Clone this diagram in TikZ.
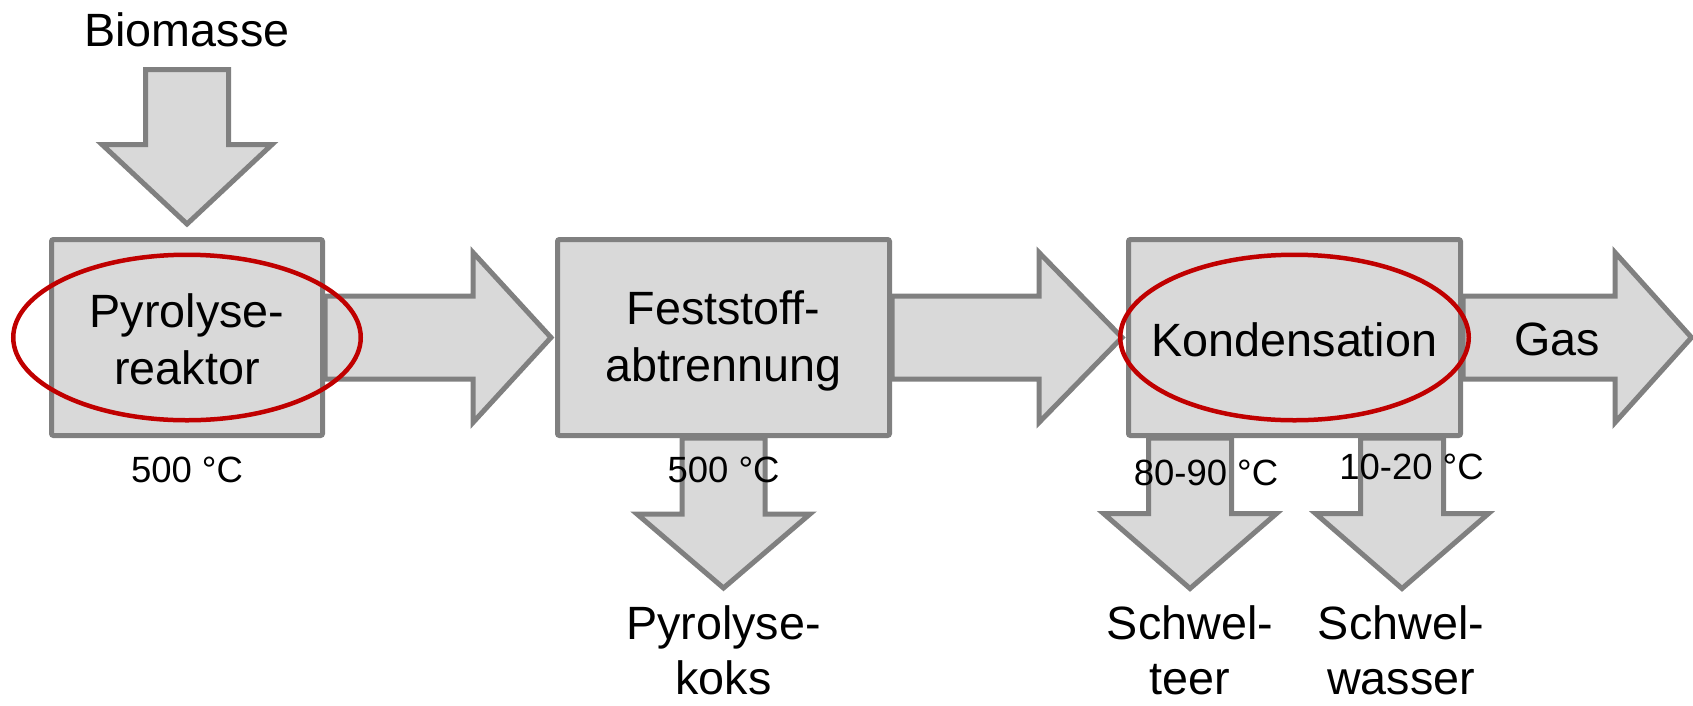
\documentclass[tikz,border=0pt]{standalone}
\usepackage{fontspec}
\setmainfont{Liberation Sans}
\usetikzlibrary{calc}
\pgfdeclarelayer{bg}
\pgfsetlayers{bg,main}
\definecolor{boxfill}{HTML}{D9D9D9}
\definecolor{boxline}{HTML}{808080}
\definecolor{markred}{HTML}{C00000}
\newcommand\bigf{\fontsize{46.7}{57}\selectfont}
\newcommand\lowf{\fontsize{46.7}{55}\selectfont}
\newcommand\smallf{\fontsize{36.5}{44}\selectfont}
\newcommand\ms{\rule[-3pt]{0pt}{43pt}}
\newcommand\ls{\rule[-3pt]{0pt}{44pt}}
\newcommand\rarr[4]{%
  \draw[blk] ($(#1)+(0,-41.5)$) -- ($(#2)+(-#3,-41.5)$) -- ($(#2)+(-#3,-#4)$) -- (#2)
    -- ($(#2)+(-#3,#4)$) -- ($(#2)+(-#3,41.5)$) -- ($(#1)+(0,41.5)$) -- cycle;}
\newcommand\darr[4]{%
  \draw[blk] ($(#1)+(-41.5,0)$) -- ($(#2)+(-41.5,-#3)$) -- ($(#2)+(-#4,-#3)$) -- (#2)
    -- ($(#2)+(#4,-#3)$) -- ($(#2)+(41.5,-#3)$) -- ($(#1)+(41.5,0)$) -- cycle;}
\tikzset{
  blk/.style={fill=boxfill, draw=boxline, line width=5pt, line join=miter},
  procbox/.style={rectangle, fill=boxfill, draw=boxline, line width=5pt,
    rounded corners=2pt, inner sep=0pt, minimum height=196pt, align=center, font=\bigf},
  redmark/.style={draw=markred, line width=4.5pt},
  bigtxt/.style={inner sep=0pt, align=center, font=\bigf},
  lowtxt/.style={inner sep=0pt, align=center, font=\lowf},
  smalltxt/.style={inner sep=0pt, anchor=base, font=\smallf}
}
\begin{document}
\begin{tikzpicture}[x=1pt, y=-1pt]
\useasboundingbox (0,0) rectangle (1693,705);
% process boxes
\node[procbox, minimum width=271pt] (box1) at (187,337.5) {\ms Pyrolyse-\\\ms reaktor};
\node[procbox, minimum width=332pt] (box2) at (723.5,337.5) {\ms Feststoff-\\\ms abtrennung};
\node[procbox, minimum width=332pt] (box3) at (1294.5,337.5) {\ms Kondensation};
% free ends
\coordinate (bstart) at (187,69.5);
\coordinate (btip) at ($(box1.north)+(0,-13)$);
\coordinate (t1) at ($(box2.west)+(-4,0)$);
\coordinate (t2) at ($(box3.west)+(-4,0)$);
\coordinate (gtip) at ($(box3.east)+(228.5,0)$);
\coordinate (kstart) at (box2.south);
\coordinate (ktip) at ($(box2.south)+(0,150)$);
\coordinate (tstart) at ($(box3.south)+(-104.5,0)$);
\coordinate (ttip) at ($(tstart)+(0,150.5)$);
\coordinate (wstart) at ($(box3.south)+(107.5,0)$);
\coordinate (wtip) at ($(wstart)+(0,150.5)$);
\begin{pgfonlayer}{bg}
\darr{bstart}{btip}{79.5}{85}
\rarr{box1.east}{t1}{78}{85}
\rarr{box2.east}{t2}{83}{85}
\rarr{box3.east}{gtip}{76.5}{85}
\darr{kstart}{ktip}{74}{86.5}
\darr{tstart}{ttip}{75}{86.5}
\darr{wstart}{wtip}{75}{86.5}
\end{pgfonlayer}
% red markings
\draw[redmark] (box1.center) ellipse [x radius=173.75, y radius=82.75];
\draw[redmark] (box3.center) ellipse [x radius=174.25, y radius=82.75];
% texts
\node[bigtxt, anchor=base] (biolabel) at (187,46) {Biomasse};
\node[bigtxt, anchor=base] (gaslabel) at (1557,355) {Gas};
\node[smalltxt] (t500a) at (187,482) {500 °C};
\node[smalltxt] (t500b) at (723.5,482) {500 °C};
\node[smalltxt] (t8090) at (1206,485) {80-90 °C};
\node[smalltxt] (t1020) at (1411.5,479) {10-20 °C};
\node[lowtxt] (koks) at (723.5,647.5) {\ls Pyrolyse-\\\ls koks};
\node[lowtxt] (teer) at (1190,647.5) {\ls Schwel-\\\ls teer};
\node[lowtxt] (wasser) at (1401,647.5) {\ls Schwel-\\\ls wasser};
\end{tikzpicture}
\end{document}
